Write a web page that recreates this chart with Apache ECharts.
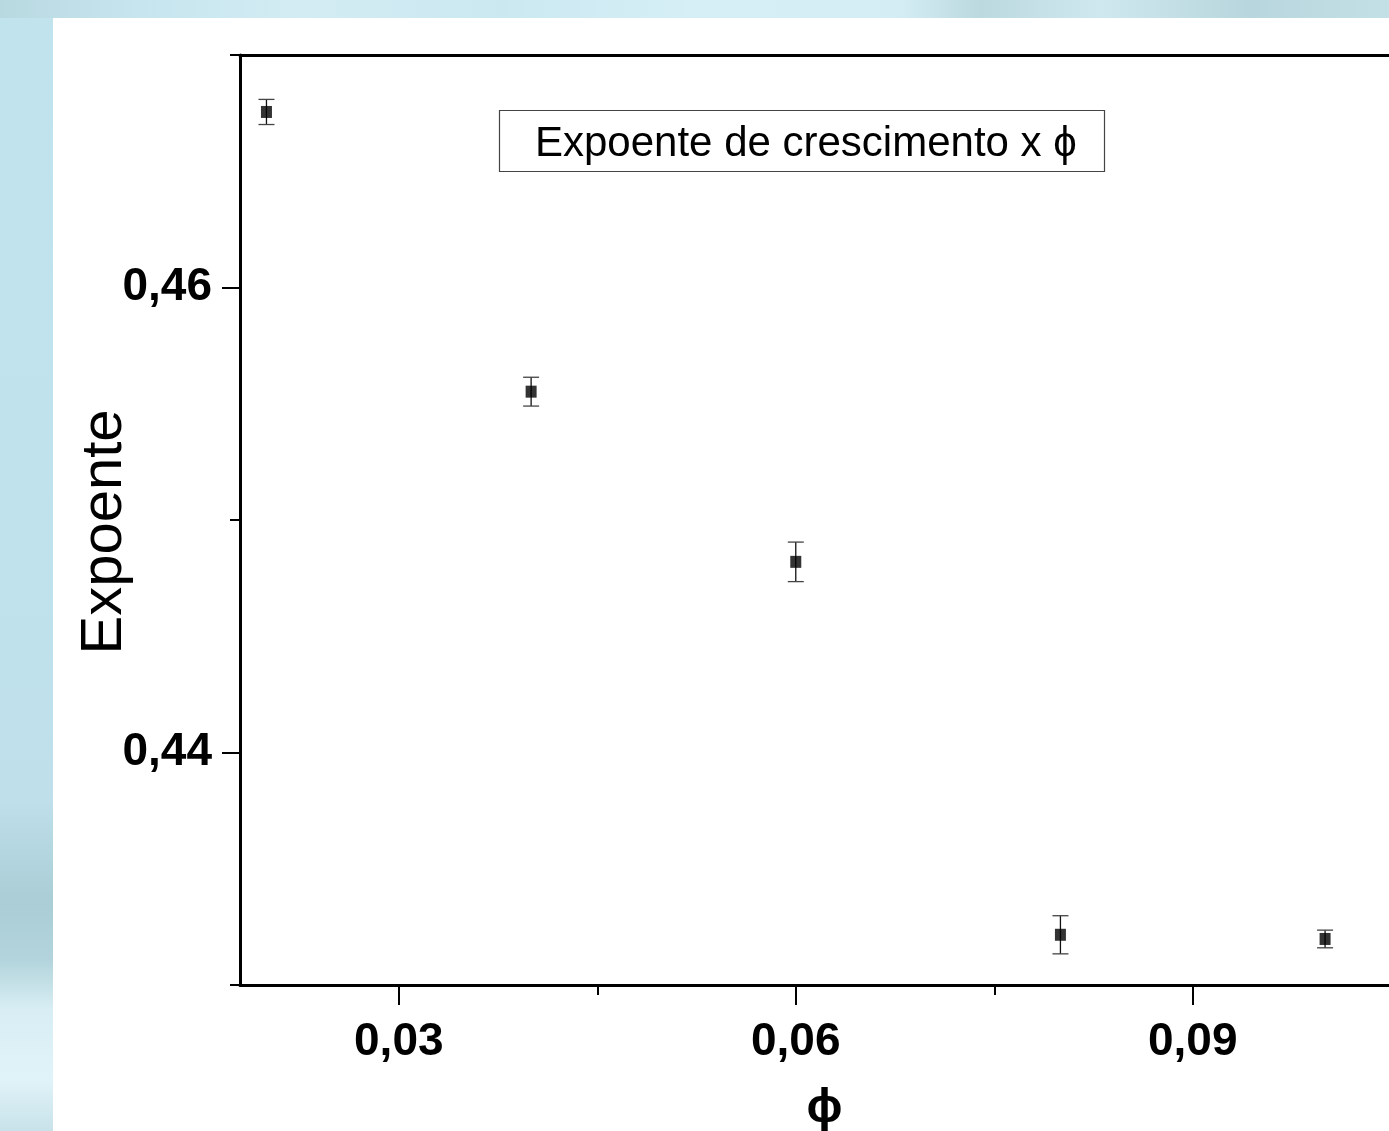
<!DOCTYPE html>
<html>
<head>
<meta charset="utf-8">
<script src="https://cdn.jsdelivr.net/npm/echarts@6/dist/echarts.min.js"></script>
<style>
  html, body { margin: 0; padding: 0; width: 1389px; height: 1131px; overflow: hidden; }
  body {
    background:
      linear-gradient(to right, #b9d9e1 0px, #c6e5ee 140px, #d3ecf3 300px, #cbe8f0 500px, #d6eff6 700px, #d4edf4 900px, #bcd9e0 980px, #cfe8ef 1100px, #b8d6dd 1250px, #c4e0e7 1389px) top left / 1389px 18px no-repeat,
      linear-gradient(to bottom, #c0e3ee 0px, #bfe2ec 500px, #bfe0ea 800px, #aacdd6 900px, #b3d4dc 960px, #d8eef4 1010px, #e0f3f8 1080px, #c8e2ea 1131px);
  }
  #paper { position: absolute; left: 53px; top: 18px; width: 1336px; height: 1113px; background: #ffffff; }
  #chart { position: absolute; left: 0; top: 0; width: 1389px; height: 1131px; }
</style>
</head>
<body>
<div id="paper"></div>
<div id="chart"></div>
<script>
// ---- data ----
const phi = [0.020, 0.040, 0.060, 0.080, 0.100];
const expoente = [0.46755, 0.45552, 0.44820, 0.43216, 0.43198];
const erro = [0.00054, 0.00062, 0.00085, 0.00082, 0.00038];
const xTickValues = [0.03, 0.06, 0.09];
const xMinorTickValues = [0.045, 0.075];
const yTickValues = [0.44, 0.46];
const yMinorTickValues = [0.43, 0.45, 0.47];
const legendText = 'Expoente de crescimento x \u03d5';
const xName = '\u03d5';
const yName = 'Expoente';

const fmt = v => v.toFixed(2).replace('.', ',');
const points = phi.map((x, i) => [x, expoente[i]]);
const bars = phi.map((x, i) => [x, expoente[i] - erro[i], expoente[i] + erro[i]]);

const FONT = '"Liberation Sans", Arial, sans-serif';
const chart = echarts.init(document.getElementById('chart'), null, { renderer: 'canvas' });
const xMin = 0.018, xMax = 0.10483;
chart.setOption({
  backgroundColor: 'transparent',
  animation: false,
  title: {
    text: legendText,
    left: 499, top: 110,
    padding: [11, 28, 5, 36],
    borderColor: '#444', borderWidth: 1.2,
    backgroundColor: '#fff',
    textStyle: { fontFamily: FONT, fontSize: 42, fontWeight: 'normal', color: '#000', lineHeight: 46 }
  },
  grid: { left: 240, right: 0, top: 55, bottom: 146, containLabel: false, outerBoundsMode: 'none' },
  xAxis: [
    {
      type: 'value', position: 'bottom', min: xMin, max: xMax,
      axisLine: { show: true, lineStyle: { color: '#000', width: 3 } },
      axisTick: { show: true, customValues: xTickValues, length: 20, inside: false, lineStyle: { color: '#000', width: 2 } },
      axisLabel: { customValues: xTickValues, formatter: fmt, margin: 34, fontFamily: FONT, fontSize: 46, fontWeight: 'bold', color: '#000' },
      splitLine: { show: false },
      name: xName, nameLocation: 'middle', nameGap: 100, nameMoveOverlap: false,
      nameTextStyle: { fontFamily: FONT, fontSize: 48, fontWeight: 'bold', color: '#000', padding: [0, 0, 0, 20] }
    },
    {
      type: 'value', position: 'bottom', min: xMin, max: xMax,
      axisLine: { show: false },
      axisTick: { show: true, customValues: xMinorTickValues, length: 10, lineStyle: { color: '#000', width: 2 } },
      axisLabel: { show: false },
      splitLine: { show: false }
    },
    {
      type: 'value', position: 'top', min: xMin, max: xMax,
      axisLine: { show: true, lineStyle: { color: '#000', width: 3 } },
      axisTick: { show: false }, axisLabel: { show: false }, splitLine: { show: false }
    }
  ],
  yAxis: [
    {
      type: 'value', position: 'left', min: 0.43, max: 0.47,
      axisLine: { show: true, lineStyle: { color: '#000', width: 3 } },
      axisTick: { show: true, customValues: yTickValues, length: 18, lineStyle: { color: '#000', width: 2 } },
      axisLabel: { customValues: yTickValues, formatter: fmt, margin: 28, fontFamily: FONT, fontSize: 46, fontWeight: 'bold', color: '#000' },
      splitLine: { show: false },
      name: yName, nameLocation: 'middle', nameGap: 106, nameRotate: 90, nameMoveOverlap: false,
      nameTextStyle: { fontFamily: FONT, fontSize: 58, fontWeight: 'normal', color: '#000', padding: [0, 24, 0, 0] }
    },
    {
      type: 'value', position: 'left', min: 0.43, max: 0.47,
      axisLine: { show: false },
      axisTick: { show: true, customValues: yMinorTickValues, length: 10, lineStyle: { color: '#000', width: 2 } },
      axisLabel: { show: false }, splitLine: { show: false }
    }
  ],
  series: [
    {
      type: 'custom',
      xAxisIndex: 0, yAxisIndex: 0,
      data: bars,
      renderItem: function (params, api) {
        const lo = api.coord([api.value(0), api.value(1)]);
        const hi = api.coord([api.value(0), api.value(2)]);
        const hw = 8;
        return {
          type: 'group',
          children: [
            { type: 'line', shape: { x1: lo[0], y1: lo[1], x2: hi[0], y2: hi[1] }, style: { stroke: '#111', lineWidth: 1.3 } },
            { type: 'line', shape: { x1: lo[0] - hw, y1: lo[1], x2: lo[0] + hw, y2: lo[1] }, style: { stroke: '#444', lineWidth: 1.3 } },
            { type: 'line', shape: { x1: hi[0] - hw, y1: hi[1], x2: hi[0] + hw, y2: hi[1] }, style: { stroke: '#444', lineWidth: 1.3 } }
          ]
        };
      },
      z: 2
    },
    {
      type: 'scatter',
      xAxisIndex: 0, yAxisIndex: 0,
      data: points,
      symbol: 'rect', symbolSize: [11, 12],
      itemStyle: { color: '#000' },
      z: 3
    }
  ]
});
</script>
</body>
</html>
